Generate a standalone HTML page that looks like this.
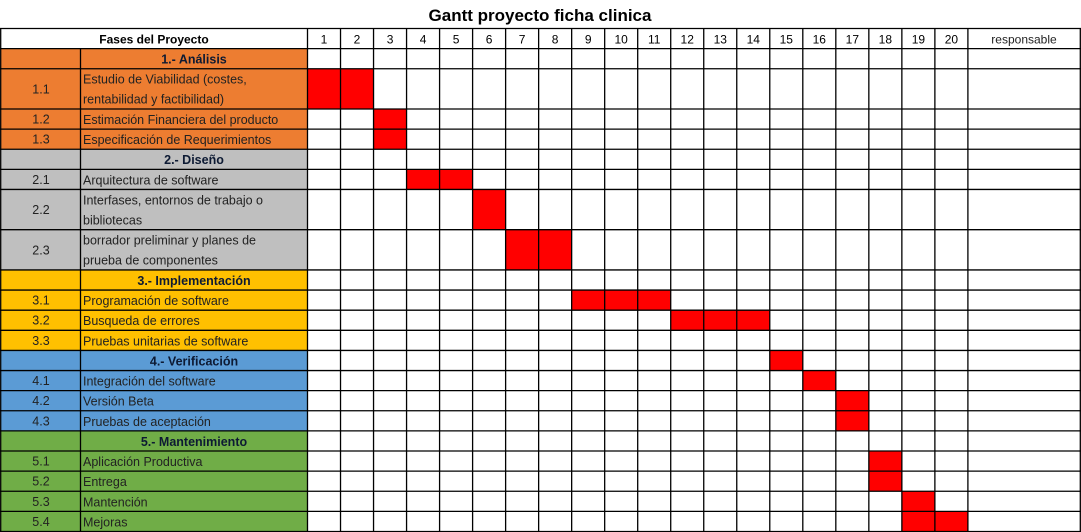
<!DOCTYPE html>
<html><head><meta charset="utf-8"><style>
html,body{margin:0;padding:0;background:#fff;}
svg{display:block;font-family:"Liberation Sans",sans-serif;}
</style></head><body>
<svg id="g" width="1081" height="532" xmlns="http://www.w3.org/2000/svg">
<text x="540" y="21" text-anchor="middle" font-size="17" font-weight="bold" fill="#000">Gantt proyecto ficha clinica</text>
</svg>
<script>
const ids = ["", "1.1","1.2","1.3","", "2.1","2.2","2.3","", "3.1","3.2","3.3","", "4.1","4.2","4.3","", "5.1","5.2","5.3","5.4"];
const tasks = ["1.- Análisis","Estudio de Viabilidad (costes,|rentabilidad y factibilidad)","Estimación Financiera del producto","Especificación de Requerimientos",
"2.- Diseño","Arquitectura de software","Interfases, entornos de trabajo o|bibliotecas","borrador preliminar y planes de|prueba de componentes",
"3.- Implementación","Programación de software","Busqueda de errores","Pruebas unitarias de software",
"4.- Verificación","Integración del software","Versión Beta","Pruebas de aceptación",
"5.- Mantenimiento","Aplicación Productiva","Entrega","Mantención","Mejoras"];
const rowUnits = [1,2,1,1,1,1,2,2,1,1,1,1,1,1,1,1,1,1,1,1,1];
const phaseOf = [0,0,0,0,1,1,1,1,2,2,2,2,3,3,3,3,4,4,4,4,4];
const barStart = [0,1,3,3,0,4,6,7,0,9,12,0,15,16,17,17,0,18,18,19,19];
const barEnd   = [0,2,3,3,0,5,6,8,0,11,14,0,15,16,17,17,0,18,18,19,20];
const periods = ["1","2","3","4","5","6","7","8","9","10","11","12","13","14","15","16","17","18","19","20"];
const phaseColors = ["#ED7D31","#BFBFBF","#FFC000","#5B9BD5","#70AD47"];

const svg = document.getElementById('g');
const NS = "http://www.w3.org/2000/svg";
const top0 = 28.5, unit = 20.12;
const x0 = 307.5, cw = 33.02;
const xCol = i => x0 + i*cw;
const yUnit = u => top0 + u*unit;
function el(t, a){const e=document.createElementNS(NS,t);for(const k in a)e.setAttribute(k,a[k]);svg.appendChild(e);return e;}
// header
let h1 = el('text',{x:154,y:yUnit(0)+15,'text-anchor':'middle','font-size':12,'font-weight':'bold'});
h1.textContent="Fases del Proyecto";


periods.forEach((p,i)=>{
  const t=el('text',{x:xCol(i)+cw/2,y:yUnit(0)+15,'text-anchor':'middle','font-size':12});
  t.textContent=p;
  
  
});
const rt=el('text',{x:1024,y:yUnit(0)+15,'text-anchor':'middle','font-size':12,fill:'#222'});
rt.textContent="responsable";


// rows
let u=1;
const starts=[];
rowUnits.forEach((n,r)=>{
  const y=yUnit(u), h=n*unit; starts.push(u);
  const bg=el('rect',{x:0.5,y:y,width:x0-0.5,height:h,fill:phaseColors[phaseOf[r]]});
  
  
  const isPhase = ids[r]==="";
  if(ids[r]){
    const t=el('text',{x:41,y:y+h/2+4.5,'text-anchor':'middle','font-size':12.5,fill:'#222'});
    t.textContent=ids[r];
    
    
  }
  if(isPhase){
    const t=el('text',{x:194,y:y+15,'text-anchor':'middle','font-size':12.5,'font-weight':'bold',fill:'#0d1a33'});
    t.textContent=tasks[r];
    
    
  } else {
    tasks[r].split('|').forEach((line,k)=>{
      const t=el('text',{x:83,y:y+15+k*20,'font-size':12.5,fill:'#222'});
      t.textContent=line;
      
      
    });
  }
  if(barStart[r]>0){
    const b=el('rect',{x:xCol(barStart[r]-1),y:y,width:(barEnd[r]-barStart[r]+1)*cw,height:h,fill:'#FF0000'});
    
    
  }
  u+=n;
});
const total=u;
// grid lines
function line(x1,y1,x2,y2,nm){const l=el('line',{x1,y1,x2,y2,stroke:'#000','stroke-width':1.3});}
line(0,yUnit(0),1081,yUnit(0),'grid-top');
line(0,yUnit(1),1081,yUnit(1),'grid-h');
starts.forEach((s,r)=>{ line(0,yUnit(s+rowUnits[r]),1081,yUnit(s+rowUnits[r]),'grid-h'); });
line(0.7,yUnit(0),0.7,yUnit(total),'grid-left');
line(80.5,yUnit(1),80.5,yUnit(total),'grid-id-sep');
for(let i=0;i<=20;i++) line(xCol(i),yUnit(0),xCol(i),yUnit(total),'grid-v');
line(1080.3,yUnit(0),1080.3,yUnit(total),'grid-right');
</script>
</body></html>
